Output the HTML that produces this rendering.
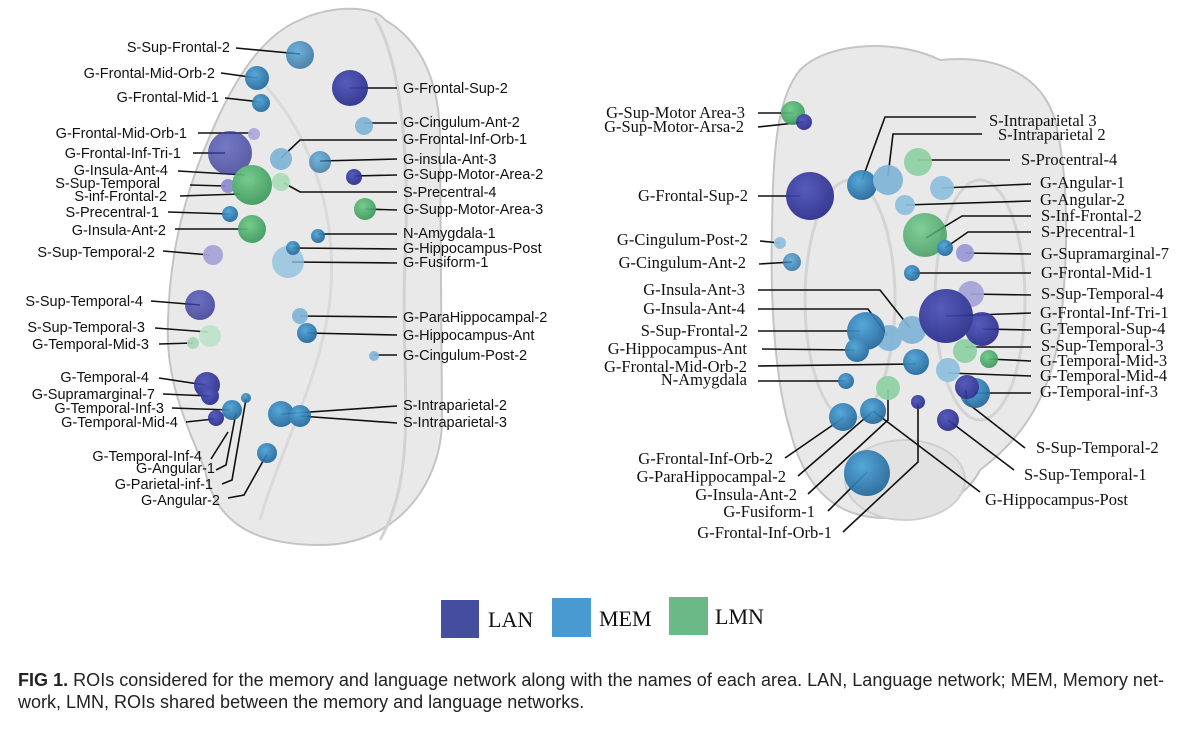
<!DOCTYPE html>
<html><head><meta charset="utf-8"><style>
html,body{margin:0;padding:0;background:#fff;width:1199px;height:729px;overflow:hidden}
svg{display:block}
.ls{font-family:"Liberation Sans",sans-serif;font-size:14.5px;fill:#111}
.rs{font-family:"Liberation Serif",serif;font-size:16.5px;fill:#111}
.cap{font-family:"Liberation Sans",sans-serif;font-size:18px;fill:#222}
line,polyline{stroke:#111;stroke-width:1.6;fill:none}
</style></head><body>
<svg width="1199" height="729" viewBox="0 0 1199 729">
<defs>
<radialGradient id="L" cx="40%" cy="35%" r="65%"><stop offset="0" stop-color="#4a50b8"/><stop offset="1" stop-color="#2a2d8c"/></radialGradient>
<radialGradient id="M" cx="40%" cy="35%" r="65%"><stop offset="0" stop-color="#4aa3d8"/><stop offset="1" stop-color="#23689c"/></radialGradient>
<radialGradient id="G" cx="40%" cy="35%" r="65%"><stop offset="0" stop-color="#6cca86"/><stop offset="1" stop-color="#3c9a5c"/></radialGradient>
</defs>
<!-- left brain -->
<path d="M300,20 C330,5 375,5 385,20 C420,40 440,80 440,140 L442,420 C442,480 400,545 320,545 C250,545 215,520 205,470 C185,420 165,380 168,320 C170,250 185,200 200,160 C220,110 250,40 300,20 Z" fill="#e9e9e9" stroke="#c4c4c4" stroke-width="2"/>
<path d="M375,18 C400,60 410,150 405,260 C400,380 420,470 380,540" fill="none" stroke="#d2d2d2" stroke-width="3"/>
<path d="M260,80 C300,120 340,200 330,300 C320,380 280,450 260,520" fill="none" stroke="#dadada" stroke-width="3"/>
<!-- right brain -->
<path d="M800,70 C830,40 900,40 940,60 C990,55 1040,70 1055,120 C1070,180 1068,260 1060,330 C1050,400 1020,440 980,470 C960,510 900,525 860,515 C820,505 800,470 790,430 C775,380 770,300 772,230 C773,160 775,100 800,70 Z" fill="#e9e9e9" stroke="#c4c4c4" stroke-width="2"/>
<ellipse cx="905" cy="480" rx="60" ry="40" fill="#e2e2e2" stroke="#cfcfcf" stroke-width="2"/>
<ellipse cx="850" cy="300" rx="45" ry="120" fill="none" stroke="#d4d4d4" stroke-width="3"/>
<ellipse cx="980" cy="300" rx="45" ry="120" fill="none" stroke="#d4d4d4" stroke-width="3"/>

<!-- left panel lines -->
<g>
<line x1="236" y1="48" x2="300" y2="54"/>
<line x1="221" y1="73" x2="257" y2="78"/>
<line x1="225" y1="98" x2="261" y2="102"/>
<line x1="198" y1="133" x2="252" y2="133"/>
<line x1="193" y1="153" x2="225" y2="153"/>
<line x1="178" y1="171" x2="245" y2="175"/>
<line x1="190" y1="185" x2="225" y2="186"/>
<line x1="180" y1="196" x2="240" y2="194"/>
<line x1="168" y1="212" x2="230" y2="214"/>
<line x1="175" y1="229" x2="248" y2="229"/>
<line x1="163" y1="251" x2="210" y2="255"/>
<line x1="151" y1="301" x2="200" y2="305"/>
<line x1="155" y1="328" x2="208" y2="332"/>
<line x1="159" y1="344" x2="193" y2="343"/>
<line x1="159" y1="378" x2="205" y2="385"/>
<line x1="163" y1="394" x2="210" y2="396"/>
<line x1="172" y1="408" x2="230" y2="410"/>
<line x1="186" y1="422" x2="214" y2="419"/>
<polyline points="211,459 228,432"/>
<polyline points="216,470 226,465 236,413"/>
<polyline points="222,484 232,480 246,399"/>
<polyline points="228,498 244,495 267,454"/>
<line x1="350" y1="88" x2="397" y2="88"/>
<line x1="364" y1="123" x2="397" y2="123"/>
<polyline points="397,140 300,140 281,158"/>
<line x1="320" y1="161" x2="397" y2="159"/>
<line x1="354" y1="176" x2="397" y2="175"/>
<polyline points="284,183 300,192 397,192"/>
<line x1="365" y1="209" x2="397" y2="210"/>
<line x1="318" y1="234" x2="397" y2="234"/>
<line x1="293" y1="248" x2="397" y2="249"/>
<line x1="292" y1="262" x2="397" y2="263"/>
<line x1="300" y1="316" x2="397" y2="317"/>
<line x1="307" y1="333" x2="397" y2="335"/>
<line x1="374" y1="355" x2="397" y2="355"/>
<line x1="281" y1="414" x2="397" y2="406"/>
<line x1="300" y1="416" x2="397" y2="423"/>
</g>
<!-- left panel circles -->
<g opacity="0.92">
<circle cx="300" cy="55" r="14" fill="url(#M)" opacity=".85"/>
<circle cx="257" cy="78" r="12" fill="url(#M)"/>
<circle cx="261" cy="103" r="9" fill="url(#M)"/>
<circle cx="254" cy="134" r="6" fill="#a9a8dc"/>
<circle cx="230" cy="153" r="22" fill="url(#L)" opacity=".8"/>
<circle cx="228" cy="186" r="7" fill="#8c8ad0"/>
<circle cx="252" cy="185" r="20" fill="url(#G)"/>
<circle cx="230" cy="214" r="8" fill="url(#M)"/>
<circle cx="252" cy="229" r="14" fill="url(#G)"/>
<circle cx="213" cy="255" r="10" fill="#a5a3d8"/>
<circle cx="200" cy="305" r="15" fill="url(#L)" opacity=".85"/>
<circle cx="210" cy="336" r="11" fill="#bfe3c9"/>
<circle cx="193" cy="343" r="6" fill="#a7d9b6"/>
<circle cx="207" cy="385" r="13" fill="url(#L)"/>
<circle cx="210" cy="396" r="9" fill="url(#L)"/>
<circle cx="232" cy="410" r="10" fill="url(#M)"/>
<circle cx="216" cy="418" r="8" fill="url(#L)"/>
<circle cx="246" cy="398" r="5" fill="url(#M)"/>
<circle cx="267" cy="453" r="10" fill="url(#M)"/>
<circle cx="350" cy="88" r="18" fill="url(#L)"/>
<circle cx="364" cy="126" r="9" fill="#7fb4d6"/>
<circle cx="281" cy="159" r="11" fill="#7fb4d6"/>
<circle cx="320" cy="162" r="11" fill="url(#M)" opacity=".8"/>
<circle cx="354" cy="177" r="8" fill="url(#L)"/>
<circle cx="281" cy="182" r="9" fill="#a9dcb8"/>
<circle cx="365" cy="209" r="11" fill="url(#G)"/>
<circle cx="318" cy="236" r="7" fill="url(#M)"/>
<circle cx="288" cy="262" r="16" fill="#8ec0df" opacity=".85"/>
<circle cx="293" cy="248" r="7" fill="url(#M)"/>
<circle cx="300" cy="316" r="8" fill="#7fb4d6"/>
<circle cx="307" cy="333" r="10" fill="url(#M)"/>
<circle cx="374" cy="356" r="5" fill="#7fb4d6"/>
<circle cx="281" cy="414" r="13" fill="url(#M)"/>
<circle cx="300" cy="416" r="11" fill="url(#M)"/>
</g>
<!-- left labels -->
<g class="ls" text-anchor="end">
<text x="230" y="52">S-Sup-Frontal-2</text>
<text x="215" y="78">G-Frontal-Mid-Orb-2</text>
<text x="219" y="102">G-Frontal-Mid-1</text>
<text x="187" y="138">G-Frontal-Mid-Orb-1</text>
<text x="181" y="158">G-Frontal-Inf-Tri-1</text>
<text x="168" y="175">G-Insula-Ant-4</text>
<text x="160" y="188">S-Sup-Temporal</text>
<text x="167" y="201">S-inf-Frontal-2</text>
<text x="159" y="217">S-Precentral-1</text>
<text x="166" y="235">G-Insula-Ant-2</text>
<text x="155" y="257">S-Sup-Temporal-2</text>
<text x="143" y="306">S-Sup-Temporal-4</text>
<text x="145" y="332">S-Sup-Temporal-3</text>
<text x="149" y="349">G-Temporal-Mid-3</text>
<text x="149" y="382">G-Temporal-4</text>
<text x="155" y="399">G-Supramarginal-7</text>
<text x="164" y="413">G-Temporal-Inf-3</text>
<text x="178" y="427">G-Temporal-Mid-4</text>
<text x="202" y="461">G-Temporal-Inf-4</text>
<text x="215" y="473">G-Angular-1</text>
<text x="213" y="489">G-Parietal-inf-1</text>
<text x="220" y="505">G-Angular-2</text>
</g>
<g class="ls">
<text x="403" y="93">G-Frontal-Sup-2</text>
<text x="403" y="127">G-Cingulum-Ant-2</text>
<text x="403" y="144">G-Frontal-Inf-Orb-1</text>
<text x="403" y="164">G-insula-Ant-3</text>
<text x="403" y="179">G-Supp-Motor-Area-2</text>
<text x="403" y="197">S-Precentral-4</text>
<text x="403" y="214">G-Supp-Motor-Area-3</text>
<text x="403" y="238">N-Amygdala-1</text>
<text x="403" y="253">G-Hippocampus-Post</text>
<text x="403" y="267">G-Fusiform-1</text>
<text x="403" y="322">G-ParaHippocampal-2</text>
<text x="403" y="340">G-Hippocampus-Ant</text>
<text x="403" y="360">G-Cingulum-Post-2</text>
<text x="403" y="410">S-Intraparietal-2</text>
<text x="403" y="427">S-Intraparietal-3</text>
</g>

<!-- right panel lines -->
<g>
<line x1="758" y1="113" x2="793" y2="113"/>
<line x1="758" y1="127" x2="804" y2="122"/>
<line x1="758" y1="196" x2="800" y2="196"/>
<line x1="760" y1="241" x2="780" y2="243"/>
<line x1="759" y1="264" x2="792" y2="262"/>
<polyline points="758,290 880,290 910,328"/>
<polyline points="758,309 868,309 888,336"/>
<line x1="758" y1="331" x2="860" y2="331"/>
<line x1="762" y1="349" x2="855" y2="350"/>
<line x1="758" y1="366" x2="916" y2="364"/>
<line x1="758" y1="381" x2="846" y2="381"/>
<line x1="785" y1="458" x2="843" y2="418"/>
<line x1="798" y1="476" x2="872" y2="412"/>
<polyline points="808,494 888,420 888,390"/>
<line x1="828" y1="511" x2="867" y2="472"/>
<polyline points="843,532 918,462 918,403"/>
<line x1="873" y1="411" x2="980" y2="492"/>
<line x1="948" y1="420" x2="1014" y2="470"/>
<line x1="966" y1="390" x2="966" y2="402"/>
<line x1="966" y1="402" x2="1025" y2="448"/>
<polyline points="976,117 885,117 862,180"/>
<polyline points="982,134 893,134 888,176"/>
<line x1="918" y1="160" x2="1010" y2="160"/>
<line x1="942" y1="188" x2="1031" y2="184"/>
<line x1="905" y1="205" x2="1031" y2="201"/>
<polyline points="1031,216 962,216 926,238"/>
<polyline points="1031,232 968,232 945,248"/>
<line x1="965" y1="253" x2="1031" y2="254"/>
<line x1="912" y1="273" x2="1031" y2="273"/>
<line x1="971" y1="294" x2="1031" y2="295"/>
<line x1="946" y1="316" x2="1031" y2="313"/>
<line x1="982" y1="329" x2="1031" y2="330"/>
<line x1="965" y1="347" x2="1031" y2="347"/>
<line x1="989" y1="359" x2="1031" y2="361"/>
<line x1="948" y1="373" x2="1031" y2="376"/>
<line x1="975" y1="393" x2="1031" y2="393"/>
</g>
<g opacity="0.92">
<circle cx="793" cy="113" r="12" fill="url(#G)"/>
<circle cx="804" cy="122" r="8" fill="url(#L)"/>
<circle cx="810" cy="196" r="24" fill="url(#L)"/>
<circle cx="780" cy="243" r="6" fill="#8ec0df"/>
<circle cx="792" cy="262" r="9" fill="url(#M)" opacity=".85"/>
<circle cx="862" cy="185" r="15" fill="url(#M)"/>
<circle cx="888" cy="180" r="15" fill="#7fb4d6"/>
<circle cx="918" cy="162" r="14" fill="#8fd1a3"/>
<circle cx="942" cy="188" r="12" fill="#8ec0df"/>
<circle cx="905" cy="205" r="10" fill="#8ec0df"/>
<circle cx="925" cy="235" r="22" fill="url(#G)" opacity=".9"/>
<circle cx="945" cy="248" r="8" fill="url(#M)"/>
<circle cx="965" cy="253" r="9" fill="#9a98d6"/>
<circle cx="912" cy="273" r="8" fill="url(#M)"/>
<circle cx="971" cy="294" r="13" fill="#a5a3d8"/>
<circle cx="912" cy="330" r="14" fill="#7fb4d6"/>
<circle cx="889" cy="338" r="13" fill="#7fb4d6"/>
<circle cx="866" cy="331" r="19" fill="url(#M)"/>
<circle cx="857" cy="350" r="12" fill="url(#M)"/>
<circle cx="965" cy="351" r="12" fill="#8fd1a3"/>
<circle cx="989" cy="359" r="9" fill="url(#G)"/>
<circle cx="982" cy="329" r="17" fill="url(#L)"/>
<circle cx="946" cy="316" r="27" fill="url(#L)"/>
<circle cx="916" cy="362" r="13" fill="url(#M)"/>
<circle cx="948" cy="370" r="12" fill="#8ec0df"/>
<circle cx="846" cy="381" r="8" fill="url(#M)"/>
<circle cx="975" cy="393" r="15" fill="url(#M)"/>
<circle cx="967" cy="387" r="12" fill="url(#L)"/>
<circle cx="888" cy="388" r="12" fill="#8fd1a3"/>
<circle cx="918" cy="402" r="7" fill="url(#L)"/>
<circle cx="948" cy="420" r="11" fill="url(#L)"/>
<circle cx="843" cy="417" r="14" fill="url(#M)"/>
<circle cx="873" cy="411" r="13" fill="url(#M)"/>
<circle cx="867" cy="473" r="23" fill="url(#M)"/>
</g>
<g class="rs" text-anchor="end">
<text x="745" y="118">G-Sup-Motor Area-3</text>
<text x="744" y="132">G-Sup-Motor-Arsa-2</text>
<text x="748" y="201">G-Frontal-Sup-2</text>
<text x="748" y="245">G-Cingulum-Post-2</text>
<text x="746" y="268">G-Cingulum-Ant-2</text>
<text x="745" y="295">G-Insula-Ant-3</text>
<text x="745" y="314">G-Insula-Ant-4</text>
<text x="748" y="336">S-Sup-Frontal-2</text>
<text x="747" y="354">G-Hippocampus-Ant</text>
<text x="747" y="372">G-Frontal-Mid-Orb-2</text>
<text x="747" y="385">N-Amygdala</text>
<text x="773" y="464">G-Frontal-Inf-Orb-2</text>
<text x="786" y="482">G-ParaHippocampal-2</text>
<text x="797" y="500">G-Insula-Ant-2</text>
<text x="815" y="517">G-Fusiform-1</text>
<text x="832" y="538">G-Frontal-Inf-Orb-1</text>
</g>
<g class="rs">
<text x="989" y="126">S-Intraparietal 3</text>
<text x="998" y="140">S-Intraparietal 2</text>
<text x="1021" y="165">S-Procentral-4</text>
<text x="1040" y="188">G-Angular-1</text>
<text x="1040" y="205">G-Angular-2</text>
<text x="1041" y="221">S-Inf-Frontal-2</text>
<text x="1041" y="237">S-Precentral-1</text>
<text x="1041" y="259">G-Supramarginal-7</text>
<text x="1041" y="278">G-Frontal-Mid-1</text>
<text x="1041" y="299">S-Sup-Temporal-4</text>
<text x="1040" y="318">G-Frontal-Inf-Tri-1</text>
<text x="1040" y="334">G-Temporal-Sup-4</text>
<text x="1041" y="351">S-Sup-Temporal-3</text>
<text x="1040" y="366">G-Temporal-Mid-3</text>
<text x="1040" y="381">G-Temporal-Mid-4</text>
<text x="1040" y="397">G-Temporal-inf-3</text>
<text x="1036" y="453">S-Sup-Temporal-2</text>
<text x="1024" y="480">S-Sup-Temporal-1</text>
<text x="985" y="505">G-Hippocampus-Post</text>
</g>

<!-- legend -->
<rect x="441" y="600" width="38" height="38" fill="#454d9e"/>
<text x="488" y="627" font-family="Liberation Serif,serif" font-size="22" fill="#111">LAN</text>
<rect x="552" y="598" width="39" height="39" fill="#4a9ad2"/>
<text x="599" y="626" font-family="Liberation Serif,serif" font-size="22" fill="#111">MEM</text>
<rect x="669" y="597" width="39" height="38" fill="#6ab986"/>
<text x="715" y="624" font-family="Liberation Serif,serif" font-size="22" fill="#111">LMN</text>

<!-- caption -->
<text class="cap" x="18" y="686" textLength="1146" lengthAdjust="spacing"><tspan font-weight="bold">FIG 1.</tspan> ROIs considered for the memory and language network along with the names of each area. LAN, Language network; MEM, Memory net-</text>
<text class="cap" x="18" y="708">work, LMN, ROIs shared between the memory and language networks.</text>
</svg>
</body></html>
